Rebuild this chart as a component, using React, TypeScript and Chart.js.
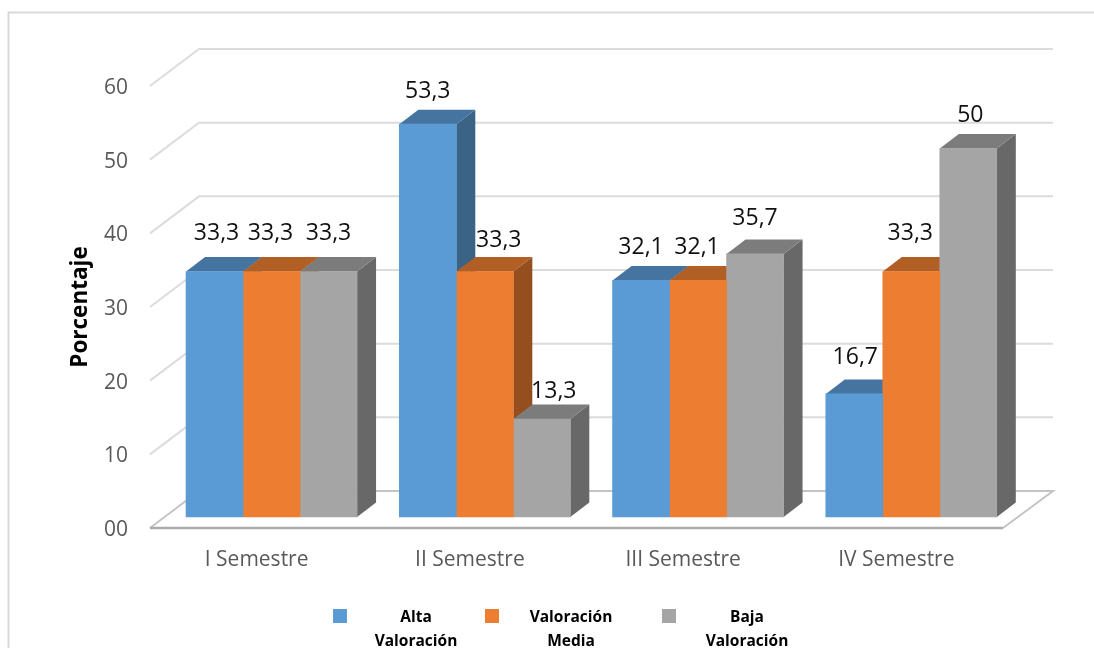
import React, { useEffect, useRef } from "react";
import { Chart, registerables } from "chart.js";

Chart.register(...registerables);

const categories = ["I Semestre", "II Semestre", "III Semestre", "IV Semestre"];
const seriesNames = [["Alta", "Valoración"], ["Valoración", "Media"], ["Baja", "Valoración"]];
const altaValoracion = [33.3, 53.3, 32.1, 16.7];
const valoracionMedia = [33.3, 33.3, 32.1, 33.3];
const bajaValoracion = [33.3, 13.3, 35.7, 50];
const frontColors = ["#5B9BD5", "#ED7D31", "#A5A5A5"];
const topColors = ["#4674A0", "#B25F25", "#7C7C7C"];
const sideColors = ["#3A6385", "#954E1E", "#686868"];

// label placement tweaks by [series][category]
const labelDx = [[2, 0, 0, 1], [-1, 14, -1, -1], [0, 12, 0, 2]];
const labelDy = [[-38, -33, -33, -36], [-38, -31, -33, -38], [-38, -28, -35, -33]];

const FONT = '"Open Sans", sans-serif';
const DX = 19;
const DY = -14.5;
const BACK_DX = 49;
const BACK_DY = -37;

const frameWallsAndDepth = {
  id: "frameWallsAndDepth",
  beforeDatasetsDraw(chart: any) {
    const { ctx, chartArea, scales } = chart;
    ctx.save();
    ctx.strokeStyle = "#D9D9D9";
    ctx.lineWidth = 2;
    ctx.strokeRect(8.5, 12.5, 1200, 800);
    const { left, right } = chartArea;
    scales.y.ticks.forEach((t: any) => {
      const y = scales.y.getPixelForValue(t.value);
      const isFloor = t.value === 0;
      ctx.strokeStyle = isFloor ? "#C4C4C4" : "#DCDCDC";
      ctx.lineWidth = 2;
      ctx.beginPath();
      ctx.moveTo(left, y);
      ctx.lineTo(left + BACK_DX, y + BACK_DY);
      ctx.lineTo(right + BACK_DX + 1, y + BACK_DY);
      if (isFloor) ctx.lineTo(right, y);
      ctx.stroke();
      if (isFloor) {
        ctx.strokeStyle = "#ABABAB";
        ctx.lineWidth = 2.4;
        ctx.beginPath();
        ctx.moveTo(left, y);
        ctx.lineTo(right, y);
        ctx.stroke();
      }
    });
    // Side and top faces go left to right, all under the front faces.
    chart.data.datasets.forEach((_: any, i: number) => {
      chart.getDatasetMeta(i).data.forEach((el: any) => {
        const p = el.getProps(["x", "y", "base", "width"], true);
        const l = p.x - p.width / 2;
        const r = p.x + p.width / 2;
        ctx.fillStyle = sideColors[i];
        ctx.beginPath();
        ctx.moveTo(r, p.y);
        ctx.lineTo(r + DX, p.y + DY);
        ctx.lineTo(r + DX, p.base + DY);
        ctx.lineTo(r, p.base);
        ctx.closePath();
        ctx.fill();
        ctx.fillStyle = topColors[i];
        ctx.beginPath();
        ctx.moveTo(l, p.y);
        ctx.lineTo(l + DX, p.y + DY);
        ctx.lineTo(r + DX, p.y + DY);
        ctx.lineTo(r, p.y);
        ctx.closePath();
        ctx.fill();
      });
    });
    ctx.restore();
  },
};

const labelsAndLegend = {
  id: "labelsAndLegend",
  afterDraw(chart: any) {
    const { ctx } = chart;
    ctx.save();
    ctx.textAlign = "center";
    ctx.textBaseline = "middle";
    ctx.fillStyle = "#111111";
    ctx.font = `23px ${FONT}`;
    chart.data.datasets.forEach((ds: any, i: number) => {
      const meta = chart.getDatasetMeta(i);
      meta.data.forEach((el: any, k: number) => {
        const text = String(ds.data[k].y).replace(".", ",");
        ctx.fillText(text, el.x + labelDx[i][k], el.y + labelDy[i][k]);
      });
    });
    const squareX = [333, 485, 662];
    const textX = [416, 571, 747];
    ctx.font = `bold 15.5px ${FONT}`;
    seriesNames.forEach((lines, i) => {
      ctx.fillStyle = frontColors[i];
      ctx.fillRect(squareX[i], 609, 14, 14);
      ctx.fillStyle = "#000000";
      lines.forEach((line, n) => ctx.fillText(line, textX[i], 618 + n * 24));
    });
    ctx.restore();
  },
};

export default function App() {
  const ref = useRef<HTMLCanvasElement>(null);
  useEffect(() => {
    const series = [altaValoracion, valoracionMedia, bajaValoracion];
    const chart = new Chart(ref.current!, {
      type: "bar",
      data: {
        labels: categories,
        datasets: series.map((values, i) => ({
          label: seriesNames[i].join(" "),
          data: values.map((y, x) => ({ x, y })),
          backgroundColor: frontColors[i],
          borderWidth: 0,
          barThickness: 57,
          xAxisID: "x1",
          yAxisID: "y1",
          clip: false,
        })),
      } as any,
      options: {
        responsive: false,
        animation: false,
        layout: { padding: { left: 67, right: 91, top: 86, bottom: 0 } },
        plugins: { legend: { display: false }, tooltip: { enabled: false } },
        scales: {
          x: {
            type: "category",
            position: "bottom",
            grid: { display: false, drawTicks: false },
            border: { display: false },
            ticks: { color: "#595959", font: { family: FONT, size: 21 }, padding: 19, maxRotation: 0 },
            afterFit: (s: any) => { s.height = 120; },
          },
          y: {
            type: "linear",
            position: "left",
            min: 0,
            max: 60,
            grid: { display: false, drawTicks: false },
            border: { display: false },
            ticks: {
              stepSize: 10,
              color: "#595959",
              font: { family: FONT, size: 21 },
              padding: 22,
              labelOffset: 2,
              callback: (v: any) => (v === 0 ? "00" : String(v)),
            },
            title: {
              display: true,
              text: "Porcentaje",
              color: "#000000",
              font: { family: FONT, size: 22.5, weight: "bold" },
              padding: 0,
            },
            afterFit: (s: any) => { s.width = 83; },
          },
          x1: { type: "linear", display: false, offset: false, min: -0.57, max: 3.43 },
          y1: { type: "linear", display: false, min: -1.49, max: 58.48 },
        },
      } as any,
      plugins: [frameWallsAndDepth, labelsAndLegend],
    });
    return () => chart.destroy();
  }, []);
  return (
    <div style={{ position: "fixed", left: 0, top: 0, width: 1094, height: 648, background: "#fff" }}>
      <canvas ref={ref} width={1094} height={648} style={{ display: "block" }} />
    </div>
  );
}
